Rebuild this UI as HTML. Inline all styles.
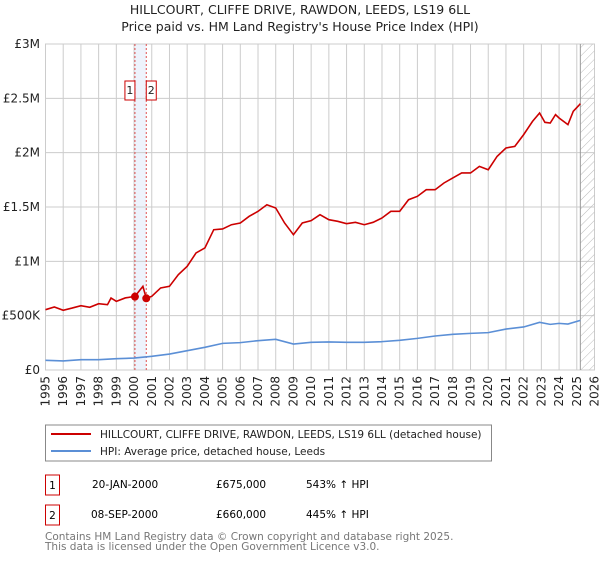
<!DOCTYPE html>
<html><head><meta charset="utf-8"><style>
body{margin:0;background:#fff;font-family:"Liberation Sans","DejaVu Sans",sans-serif}
svg text{font-family:"DejaVu Sans","Liberation Sans",sans-serif}
</style></head><body>
<svg id="c" width="600" height="560" xmlns="http://www.w3.org/2000/svg">
<text x="300" y="14" text-anchor="middle" font-size="12.5" fill="#222">HILLCOURT, CLIFFE DRIVE, RAWDON, LEEDS, LS19 6LL</text>
<text x="300" y="31" text-anchor="middle" font-size="12.5" fill="#222">Price paid vs. HM Land Registry's House Price Index (HPI)</text>
<defs><pattern id="hatch" width="6" height="6" patternUnits="userSpaceOnUse" patternTransform="rotate(45)"><line x1="0" y1="0" x2="0" y2="6" stroke="#bbb" stroke-width="1"/></pattern></defs>
<g id="grid"></g><g id="marks"></g>
<rect x="45.5" y="425" width="446" height="36" fill="none" stroke="#888"/>
<line x1="51" y1="434" x2="91" y2="434" stroke="#cc0000" stroke-width="2"/>
<text x="100" y="438" font-size="10.5" fill="#222">HILLCOURT, CLIFFE DRIVE, RAWDON, LEEDS, LS19 6LL (detached house)</text>
<line x1="51" y1="451" x2="91" y2="451" stroke="#5b8fd6" stroke-width="2"/>
<text x="100" y="455" font-size="10.5" fill="#222">HPI: Average price, detached house, Leeds</text>
<g>
<rect x="45.5" y="475" width="14" height="20" fill="none" stroke="#cc0000"/><text x="52.5" y="489" text-anchor="middle" font-size="10.5">1</text>
<text x="92" y="488" font-size="10.5">20-JAN-2000</text><text x="216" y="488" font-size="10.5">£675,000</text><text x="306" y="488" font-size="10.5">543% ↑ HPI</text></g>
<g>
<rect x="45.5" y="505" width="14" height="20" fill="none" stroke="#cc0000"/><text x="52.5" y="519" text-anchor="middle" font-size="10.5">2</text>
<text x="91" y="518" font-size="10.5">08-SEP-2000</text><text x="216" y="518" font-size="10.5">£660,000</text><text x="306" y="518" font-size="10.5">445% ↑ HPI</text></g>
<text x="45" y="540" font-size="10.5" fill="#777">Contains HM Land Registry data © Crown copyright and database right 2025.</text>
<text x="45" y="550" font-size="10.5" fill="#777">This data is licensed under the Open Government Licence v3.0.</text>
</svg>
<script>
const yTicks=[0,500000,1000000,1500000,2000000,2500000,3000000];
const yTickLabels=["£0","£500K","£1M","£1.5M","£2M","£2.5M","£3M"];
const xYears=[1995,1996,1997,1998,1999,2000,2001,2002,2003,2004,2005,2006,2007,2008,2009,2010,2011,2012,2013,2014,2015,2016,2017,2018,2019,2020,2021,2022,2023,2024,2025,2026];
const priceT=[1995,1995.5,1996,1996.5,1997,1997.5,1998,1998.5,1998.7,1999,1999.5,2000.05,2000.5,2000.69,2001,2001.5,2002,2002.5,2003,2003.5,2004,2004.5,2005,2005.5,2006,2006.5,2007,2007.5,2008,2008.5,2009,2009.5,2010,2010.5,2011,2011.5,2012,2012.5,2013,2013.5,2014,2014.5,2015,2015.5,2016,2016.5,2017,2017.5,2018,2018.5,2019,2019.5,2020,2020.5,2021,2021.5,2022,2022.5,2022.9,2023.2,2023.5,2023.8,2024,2024.5,2024.8,2025.1,2025.2];
const priceV=[555,580,550,570,592,577,610,601,663,632,663,678,770,660,678,755,770,877,954,1077,1123,1291,1298,1337,1353,1414,1460,1521,1491,1353,1245,1353,1374,1429,1383,1368,1347,1359,1337,1359,1399,1460,1460,1567,1598,1659,1659,1721,1767,1813,1813,1874,1843,1966,2043,2058,2166,2288,2365,2279,2273,2350,2319,2258,2380,2432,2451];
const hpiT=[1995,1996,1997,1998,1999,2000,2001,2002,2003,2004,2005,2006,2007,2008,2009,2010,2011,2012,2013,2014,2015,2016,2017,2018,2019,2020,2021,2022,2022.9,2023.5,2024,2024.5,2025.2];
const hpiV=[89,83,95,95,104,110,126,147,178,209,245,252,270,282,239,255,258,255,255,261,273,291,313,328,337,344,377,396,439,420,429,423,457];
const saleT=[2000.05,2000.69];
const saleV=[675000,660000];
const saleLabels=["1","2"];
const L=45.5,R=594.5,T=44,B=370,X0=1995,X1=2026,YMAX=3000000;
const sx=t=>L+(t-X0)/(X1-X0)*(R-L);
const sy=v=>B-v/YMAX*(B-T);
const NS="http://www.w3.org/2000/svg";
function mk(tag,at,parent){const e=document.createElementNS(NS,tag);for(const k in at)e.setAttribute(k,at[k]);parent.appendChild(e);return e;}
const g=document.getElementById('grid'),m=document.getElementById('marks');
mk('rect',{x:L,y:T,width:R-L,height:B-T,fill:'#fff',stroke:'#ccc'},g);
// sale band
const band=mk('rect',{x:sx(saleT[0]),y:T,width:sx(saleT[1])-sx(saleT[0]),height:B-T,fill:'#eef3fc'},g);


xYears.forEach(yr=>{
 const ln=mk('line',{x1:sx(yr),x2:sx(yr),y1:T,y2:B,stroke:'#ccc'},g);
 
 
 const x=sx(yr);
 const tx=mk('text',{x:x+4,y:376,'font-size':'12',fill:'#222','text-anchor':'end',transform:`rotate(-90 ${x+4} 376)`},g);
 tx.textContent=yr;
 
 
});
yTicks.forEach((v,i)=>{
 const ln=mk('line',{x1:L,x2:R,y1:sy(v),y2:sy(v),stroke:'#ccc'},g);
 
 
 const tx=mk('text',{x:40,y:sy(v)+4,'font-size':'12',fill:'#222','text-anchor':'end'},g);
 tx.textContent=yTickLabels[i];
 
 
});
const hx=sx(2025.2);
const hatch=mk('rect',{x:hx,y:T,width:R-hx,height:B-T,fill:'url(#hatch)'},g);


mk('line',{x1:hx,x2:hx,y1:T,y2:B,stroke:'#999'},g);
saleT.forEach((t,i)=>{
 const ln=mk('line',{x1:sx(t),x2:sx(t),y1:T,y2:B,stroke:'#e05050','stroke-dasharray':'2,2'},g);
 
 
 const bx=mk('rect',{x:sx(t)-(i===0?10:0),y:81,width:10,height:19,fill:'#fff',stroke:'#cc0000'},g);
 
 
 const tx=mk('text',{x:sx(t)+(i===0?-5:5),y:94,'font-size':'11','text-anchor':'middle',fill:'#222'},g);
 tx.textContent=saleLabels[i];
 
 
});
const hp=mk('polyline',{points:hpiT.map((t,i)=>sx(t)+','+sy(hpiV[i]*1000)).join(' '),fill:'none',stroke:'#5b8fd6','stroke-width':'1.6'},m);


const pp=mk('polyline',{points:priceT.map((t,i)=>sx(t)+','+sy(priceV[i]*1000)).join(' '),fill:'none',stroke:'#cc0000','stroke-width':'1.6'},m);


saleT.forEach((t,i)=>{
 const d=mk('circle',{cx:sx(t),cy:sy(saleV[i]),r:4,fill:'#cc0000'},m);
 
 
});
</script>
</body></html>
